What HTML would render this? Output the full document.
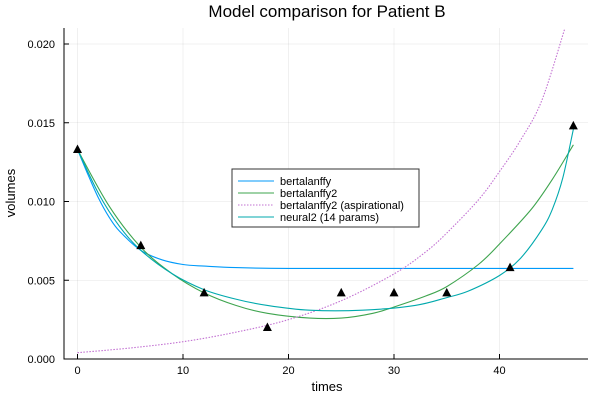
<!DOCTYPE html>
<html><head><meta charset="utf-8"><style>
body{margin:0;background:#fff}
svg{font-family:"Liberation Sans","DejaVu Sans",sans-serif}
</style></head><body>
<svg id="chart" width="600" height="400">
<text x="327" y="17" font-size="17" text-anchor="middle" fill="#000">Model comparison for Patient B</text>
<text x="327" y="391" font-size="13" text-anchor="middle">times</text>
<text x="15" y="193" font-size="13" text-anchor="middle" transform="rotate(-90 15 193)">volumes</text>
<g id="grid"></g><g id="axes"></g><g id="series"></g><g id="pts"></g>
<g>
<rect x="232" y="169" width="187" height="58" fill="#fff" stroke="#333" stroke-width="1"/>
<line x1="238" y1="181" x2="274" y2="181" stroke="#009AFA"/><text x="280" y="185" font-size="11">bertalanffy</text>
<line x1="238" y1="193" x2="274" y2="193" stroke="#3EA44E"/><text x="280" y="197" font-size="11">bertalanffy2</text>
<line x1="238" y1="205" x2="274" y2="205" stroke="#C271D2" stroke-dasharray="1.5,1.5"/><text x="280" y="209" font-size="11">bertalanffy2 (aspirational)</text>
<line x1="238" y1="217" x2="274" y2="217" stroke="#00A9AD"/><text x="280" y="221" font-size="11">neural2 (14 params)</text>
</g>
</svg>
<script>
const xTicks=[0,10,20,30,40];
const yTicks=[0,0.005,0.010,0.015,0.020];
const yTickLabels=["0.000","0.005","0.010","0.015","0.020"];
const bertT=[0,1,2,3,4,6,8,10,12,15,20,30,40,47];
const bertV=[0.0133,0.0117,0.0102,0.0090,0.0081,0.0069,0.0063,0.0060,0.0059,0.0058,0.00575,0.00575,0.00575,0.00575];
const bert2T=[0,3,6,9,12,15,18,22,25,28,30,33,35,38,40,43,45,47];
const bert2V=[0.0133,0.0097,0.0071,0.0054,0.0042,0.0034,0.0029,0.0026,0.0026,0.0029,0.0033,0.0040,0.0046,0.0060,0.0073,0.0095,0.0114,0.0136];
const aspT=[0,5,10,15,20,25,30,33,35,38,40,42,44,46.2];
const aspV=[0.0004,0.0007,0.0011,0.0017,0.0025,0.0037,0.0054,0.0068,0.0080,0.0101,0.0119,0.0139,0.0164,0.0210];
const nnT=[0,2,4,6,9,12,15,18,22,27,32,35,37,40,42,44,45,46,47];
const nnV=[0.0133,0.0105,0.0084,0.0069,0.0054,0.0044,0.0038,0.0034,0.0031,0.0031,0.0034,0.0039,0.0043,0.0053,0.0064,0.0082,0.0095,0.0115,0.0146];
const obsT=[0,6,12,18,25,30,35,41,47];
const obsV=[0.0133,0.0072,0.0042,0.0020,0.0042,0.0042,0.0042,0.0058,0.0148];
const X=t=>77.5+t*10.55, Y=v=>359-v*15750;
const NS="http://www.w3.org/2000/svg";
function mk(tag,attrs,parent){const e=document.createElementNS(NS,tag);for(const k in attrs)e.setAttribute(k,attrs[k]);document.getElementById(parent).appendChild(e);return e;}
xTicks.forEach(t=>{
 const g=mk('line',{x1:X(t),x2:X(t),y1:28,y2:359,stroke:'#000','stroke-opacity':0.1,'stroke-width':0.6},'grid');
 
 const tk=mk('line',{x1:X(t),x2:X(t),y1:359,y2:354,stroke:'#000'},'axes');
 
 const l=mk('text',{x:X(t),y:374,'font-size':11,'text-anchor':'middle'},'axes');l.textContent=t;
 
});
yTicks.forEach((v,i)=>{
 const g=mk('line',{x1:64,x2:588,y1:Y(v),y2:Y(v),stroke:'#000','stroke-opacity':0.1,'stroke-width':0.6},'grid');
 
 const tk=mk('line',{x1:64,x2:69,y1:Y(v),y2:Y(v),stroke:'#000'},'axes');
 
 const l=mk('text',{x:55,y:Y(v)+4,'font-size':11,'text-anchor':'end'},'axes');l.textContent=yTickLabels[i];
 
});
const ax=mk('path',{d:'M64 28V359H588',fill:'none',stroke:'#000','stroke-width':1},'axes');

function line(T,V,color,name,dash){
 const P=T.map((t,i)=>[X(t),Y(V[i])]);
 let d='M'+P[0][0].toFixed(1)+' '+P[0][1].toFixed(1);
 for(let i=0;i<P.length-1;i++){
  const p0=P[Math.max(i-1,0)],p1=P[i],p2=P[i+1],p3=P[Math.min(i+2,P.length-1)];
  const c1=[p1[0]+(p2[0]-p0[0])/6,p1[1]+(p2[1]-p0[1])/6];
  const c2=[p2[0]-(p3[0]-p1[0])/6,p2[1]-(p3[1]-p1[1])/6];
  d+=`C${c1[0].toFixed(1)} ${c1[1].toFixed(1)} ${c2[0].toFixed(1)} ${c2[1].toFixed(1)} ${p2[0].toFixed(1)} ${p2[1].toFixed(1)}`;
 }
 const p=mk('path',{d:d,fill:'none',stroke:color,'stroke-width':1.1},'series');
 if(dash)p.setAttribute('stroke-dasharray',dash);
 
}
line(bertT,bertV,'#009AFA','bertalanffy-line');
line(bert2T,bert2V,'#3EA44E','bertalanffy2-line');
line(aspT,aspV,'#C271D2','aspirational-line','1.5,1.5');
line(nnT,nnV,'#00A9AD','neural2-line');
obsT.forEach((t,i)=>{const x=X(t),y=Y(obsV[i]);
 const p=mk('polygon',{points:`${x},${y-5} ${x-4.5},${y+3.5} ${x+4.5},${y+3.5}`,fill:'#000'},'pts');
 
});
</script>
</body></html>
